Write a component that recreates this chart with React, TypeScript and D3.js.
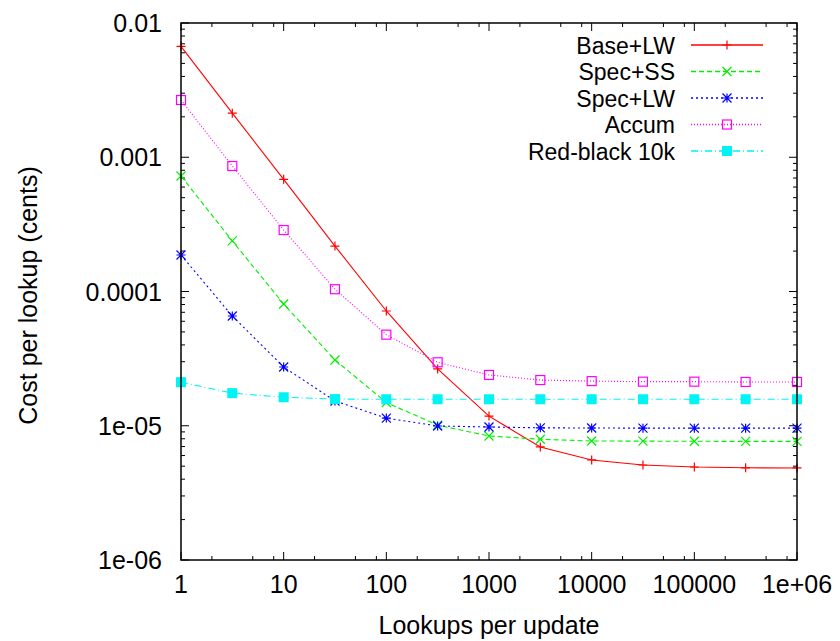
import React from "react";
import * as d3 from "d3";

// lookups per update (half-decade steps) and cost per lookup
const lookups = [1, 3.16, 10, 31.6, 100, 316, 1000, 3160, 10000, 31600, 100000, 316000, 1000000];
const baseLW = [6.7e-3, 2.13e-3, 6.85e-4, 2.18e-4, 7.16e-5, 2.65e-5, 1.18e-5, 6.95e-6, 5.56e-6, 5.1e-6, 4.93e-6, 4.86e-6, 4.85e-6];
const specSS = [7.25e-4, 2.38e-4, 8.07e-5, 3.09e-5, 1.49e-5, 1.01e-5, 8.39e-6, 7.93e-6, 7.7e-6, 7.68e-6, 7.66e-6, 7.65e-6, 7.65e-6];
const specLW = [1.87e-4, 6.57e-5, 2.74e-5, 1.53e-5, 1.14e-5, 9.96e-6, 9.79e-6, 9.65e-6, 9.62e-6, 9.6e-6, 9.6e-6, 9.6e-6, 9.6e-6];
const accum = [2.67e-3, 8.61e-4, 2.87e-4, 1.04e-4, 4.77e-5, 2.97e-5, 2.39e-5, 2.19e-5, 2.15e-5, 2.13e-5, 2.13e-5, 2.12e-5, 2.12e-5];
const redBlack = [2.11e-5, 1.75e-5, 1.63e-5, 1.58e-5, 1.575e-5, 1.575e-5, 1.575e-5, 1.575e-5, 1.575e-5, 1.575e-5, 1.575e-5, 1.575e-5, 1.575e-5];

const seriesNames = ["Base+LW", "Spec+SS", "Spec+LW", "Accum", "Red-black 10k"];
const xTicks = [1, 10, 100, 1000, 10000, 100000, 1000000];
const xTickLabels = ["1", "10", "100", "1000", "10000", "100000", "1e+06"];
const yTicks = [1e-6, 1e-5, 1e-4, 1e-3, 1e-2];
const yTickLabels = ["1e-06", "1e-05", "0.0001", "0.001", "0.01"];

const styles = [
  { color: "#ff0000", dash: "none", marker: "plus" },
  { color: "#00f000", dash: "5,3", marker: "cross" },
  { color: "#0000ff", dash: "2,3", marker: "star" },
  { color: "#ff00ff", dash: "1,2", marker: "box" },
  { color: "#00f4f4", dash: "7,3,1,3", marker: "fbox" },
];

const W = 840, H = 641;
const L = 181, R = 797, T = 23, B = 560;
const font = "'Liberation Sans', Arial, sans-serif";

function Marker({ kind, x, y, color }: { kind: string; x: number; y: number; color: string }) {
  const s = 4.5;
  if (kind === "plus")
    return <path d={`M${x - s},${y}H${x + s}M${x},${y - s}V${y + s}`} stroke={color} strokeWidth={1.2} />;
  if (kind === "cross")
    return <path d={`M${x - s},${y - s}L${x + s},${y + s}M${x - s},${y + s}L${x + s},${y - s}`} stroke={color} strokeWidth={1.2} />;
  if (kind === "star")
    return (
      <path
        d={`M${x - s},${y}H${x + s}M${x},${y - s}V${y + s}M${x - s},${y - s}L${x + s},${y + s}M${x - s},${y + s}L${x + s},${y - s}`}
        stroke={color}
        strokeWidth={1.2}
      />
    );
  if (kind === "box")
    return <rect x={x - s} y={y - s} width={2 * s} height={2 * s} fill="none" stroke={color} strokeWidth={1.2} />;
  return <rect x={x - 5} y={y - 5} width={10} height={10} fill={color} />;
}

export default function App() {
  const x = d3.scaleLog().domain([1, 1e6]).range([L, R]);
  const y = d3.scaleLog().domain([1e-6, 1e-2]).range([B, T]);
  const data = [baseLW, specSS, specLW, accum, redBlack];
  const line = d3
    .line<number>()
    .x((_, i) => x(lookups[i]))
    .y((d) => y(d));

  // gnuplot-ish minor ticks
  const xMinor: number[] = [];
  xTicks.slice(0, -1).forEach((t) => [2, 5, 8].forEach((m) => xMinor.push(t * m)));
  const yMinor: number[] = [];
  yTicks.slice(0, -1).forEach((t) => d3.range(2, 10).forEach((m) => yMinor.push(t * m)));

  return (
    <svg width={W} height={H} style={{ position: "absolute", left: 0, top: 0 }} fontFamily={font}>
      <rect width={W} height={H} fill="#fff" />
      {/* ticks, mirrored on all sides */}
      <g stroke="#000" strokeWidth={1}>
        {xTicks.map((t) => (
          <g key={"xt" + t}>
            <line x1={x(t)} x2={x(t)} y1={B} y2={B - 8} />
            <line x1={x(t)} x2={x(t)} y1={T} y2={T + 8} />
          </g>
        ))}
        {xMinor.map((t) => (
          <g key={"xm" + t}>
            <line x1={x(t)} x2={x(t)} y1={B} y2={B - 4} />
            <line x1={x(t)} x2={x(t)} y1={T} y2={T + 4} />
          </g>
        ))}
        {yTicks.map((t) => (
          <g key={"yt" + t}>
            <line x1={L} x2={L + 8} y1={y(t)} y2={y(t)} />
            <line x1={R} x2={R - 8} y1={y(t)} y2={y(t)} />
          </g>
        ))}
        {yMinor.map((t) => (
          <g key={"ym" + t}>
            <line x1={L} x2={L + 4} y1={y(t)} y2={y(t)} />
            <line x1={R} x2={R - 4} y1={y(t)} y2={y(t)} />
          </g>
        ))}
      </g>
      <g fontSize={25} fill="#000">
        {xTicks.map((t, i) => (
          <text key={"xl" + t} x={x(t)} y={593} textAnchor="middle">
            {xTickLabels[i]}
          </text>
        ))}
        {yTicks.map((t, i) => (
          <text key={"yl" + t} x={162} y={y(t) + 9} textAnchor="end">
            {yTickLabels[i]}
          </text>
        ))}
        <text x={489} y={634} textAnchor="middle">
          Lookups per update
        </text>
        <text transform={`translate(37,${(T + B) / 2 + 4}) rotate(-90)`} textAnchor="middle">
          Cost per lookup (cents)
        </text>
      </g>
      {/* series */}
      {data.map((vals, si) => (
        <g key={seriesNames[si]}>
          <path d={line(vals) || ""} fill="none" stroke={styles[si].color} strokeWidth={1.1} strokeDasharray={styles[si].dash} />
          {vals.map((v, i) => (
            <Marker key={i} kind={styles[si].marker} x={x(lookups[i])} y={y(v)} color={styles[si].color} />
          ))}
        </g>
      ))}
      {/* legend */}
      {seriesNames.map((name, si) => {
        const ly = 45 + si * 26.5;
        return (
          <g key={"lg" + name}>
            <text x={675} y={ly + 8.5} textAnchor="end" fontSize={23}>
              {name}
            </text>
            <line x1={691} x2={763} y1={ly} y2={ly} stroke={styles[si].color} strokeWidth={1.3} strokeDasharray={styles[si].dash} />
            <Marker kind={styles[si].marker} x={727} y={ly} color={styles[si].color} />
          </g>
        );
      })}
      <rect x={L} y={T} width={R - L} height={B - T} fill="none" stroke="#000" strokeWidth={1.5} />
    </svg>
  );
}
